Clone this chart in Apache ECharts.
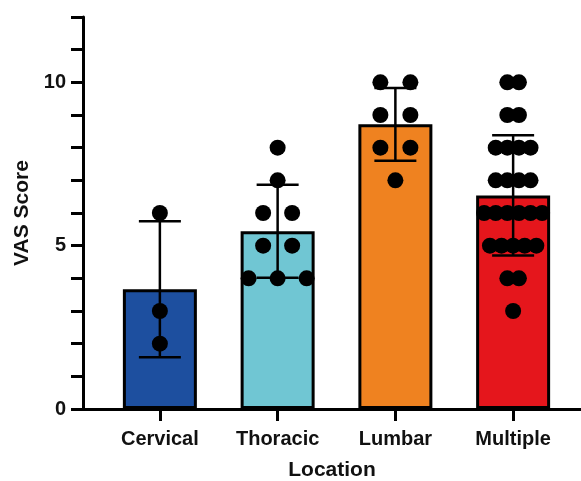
<!DOCTYPE html>
<html>
<head>
<meta charset="utf-8">
<script src="https://cdn.jsdelivr.net/npm/echarts@6/dist/echarts.min.js"></script>
<style>
  html, body { margin: 0; padding: 0; background: #fff; }
  #chart { width: 581px; height: 481px; }
</style>
</head>
<body>
<div id="chart"></div>
<script>
// VAS scores per pain location
const categories = ['Cervical', 'Thoracic', 'Lumbar', 'Multiple'];
const cervicalScores = [6, 3, 2];
const thoracicScores = [8, 7, 6, 6, 5, 5, 4, 4, 4];
const lumbarScores = [10, 10, 9, 9, 8, 8, 7];
const multipleScores = [10, 10, 9, 9, 8, 8, 8, 8, 7, 7, 7, 7, 6, 6, 6, 6, 6, 6, 5, 5, 5, 5, 5, 4, 4, 3];
const barColors = ['#1d4f9f', '#70c6d3', '#ef8220', '#e5161c'];
const yLabelValues = [0, 5, 10];

const groups = [cervicalScores, thoracicScores, lumbarScores, multipleScores];

function mean(arr) { return arr.reduce((s, v) => s + v, 0) / arr.length; }
function sd(arr) {
  const m = mean(arr);
  return Math.sqrt(arr.reduce((s, v) => s + (v - m) * (v - m), 0) / (arr.length - 1));
}

const means = groups.map(mean);
const sds = groups.map(sd);

// Scatter-dot layout: equal values sit side by side, centred on the category,
// packed tighter when a row would get too wide.
const dotData = [];
groups.forEach((arr, ci) => {
  const counts = {};
  arr.forEach(v => { counts[v] = (counts[v] || 0) + 1; });
  const nMax = Math.max(...Object.values(counts));
  const step = nMax > 1 ? Math.min(30, 58 / (nMax - 1)) : 0;
  Object.keys(counts).forEach(k => {
    const n = counts[k];
    for (let i = 0; i < n; i++) {
      dotData.push([ci, Number(k), (i - (n - 1) / 2) * step]);
    }
  });
});

const labelFont = { fontFamily: 'Liberation Sans, Arial, sans-serif', fontWeight: 'bold', color: '#111' };

const chart = echarts.init(document.getElementById('chart'));
chart.setOption({
  animation: false,
  grid: [
    { left: 83, right: 0, top: 17, bottom: 72, outerBoundsMode: 'none' },
    { left: 101, right: 9, top: 17, bottom: 72, outerBoundsMode: 'none' }
  ],
  xAxis: [
    {
      gridIndex: 0, type: 'value', min: 0, max: 1,
      axisLine: { show: true, lineStyle: { color: '#000', width: 3 } },
      axisTick: { show: false }, axisLabel: { show: false }, splitLine: { show: false },
      name: 'Location', nameLocation: 'middle', nameGap: 51,
      nameTextStyle: Object.assign({ fontSize: 21 }, labelFont)
    },
    {
      gridIndex: 1, type: 'category', data: categories,
      axisLine: { show: false },
      axisTick: { show: true, alignWithLabel: true, length: 12, lineStyle: { color: '#000', width: 3 } },
      axisLabel: Object.assign({ fontSize: 20, margin: 20 }, labelFont),
      splitLine: { show: false }
    }
  ],
  yAxis: [
    {
      gridIndex: 0, type: 'value', min: 0, max: 12, interval: 1,
      axisLine: { show: true, lineStyle: { color: '#000', width: 3 } },
      axisTick: { show: true, length: 12, lineStyle: { color: '#000', width: 3 } },
      axisLabel: Object.assign({
        fontSize: 20, margin: 17,
        formatter: v => (yLabelValues.indexOf(v) >= 0 ? String(v) : '')
      }, labelFont),
      splitLine: { show: false },
      name: 'VAS Score', nameLocation: 'middle', nameGap: 47, nameRotate: 90,
      nameTextStyle: Object.assign({ fontSize: 21 }, labelFont)
    },
    {
      gridIndex: 1, type: 'value', min: 0, max: 12, show: false
    }
  ],
  series: [
    {
      type: 'bar', xAxisIndex: 1, yAxisIndex: 1, barWidth: 74, z: 2,
      data: means.map((m, i) => ({
        value: m,
        itemStyle: { color: barColors[i], borderColor: '#000', borderWidth: 3 }
      }))
    },
    {
      // mean ± SD
      type: 'custom', xAxisIndex: 1, yAxisIndex: 1, z: 3,
      data: means.map((m, i) => [i, m, sds[i]]),
      renderItem: function (params, api) {
        const x = api.value(0), m = api.value(1), s = api.value(2);
        const top = api.coord([x, m + s]);
        const bot = api.coord([x, m - s]);
        const half = 21;
        const st = { stroke: '#000', lineWidth: 2.5 };
        return {
          type: 'group',
          children: [
            { type: 'line', shape: { x1: top[0], y1: top[1], x2: bot[0], y2: bot[1] }, style: st },
            { type: 'line', shape: { x1: top[0] - half, y1: top[1], x2: top[0] + half, y2: top[1] }, style: st },
            { type: 'line', shape: { x1: bot[0] - half, y1: bot[1], x2: bot[0] + half, y2: bot[1] }, style: st }
          ]
        };
      }
    },
    {
      // individual scores
      type: 'custom', xAxisIndex: 1, yAxisIndex: 1, z: 4,
      data: dotData,
      renderItem: function (params, api) {
        const p = api.coord([api.value(0), api.value(1)]);
        return {
          type: 'circle',
          shape: { cx: p[0] + api.value(2), cy: p[1], r: 8 },
          style: { fill: '#000' }
        };
      }
    }
  ]
});
</script>
</body>
</html>
